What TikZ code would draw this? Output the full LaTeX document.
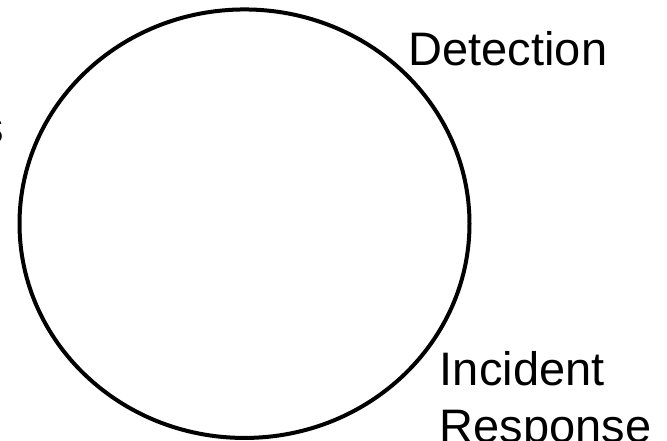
\documentclass[tikz,border=0pt]{standalone}
\usepackage{fontspec}
\setmainfont{Liberation Sans}
\usetikzlibrary{shapes.geometric}
\begin{document}
\begin{tikzpicture}[x=1pt,y=-1pt,
  ring/.style={draw=black,line width=4pt,ellipse,inner sep=0pt,minimum width=450pt,minimum height=428.5pt},
  lbl/.style={inner sep=0pt,font=\fontsize{47pt}{57.5pt}\selectfont,text=black}]
\useasboundingbox (0,0) rectangle (667,441);
\node[ring] (cycle) at (244.5,223.7) {};
\node[lbl,anchor=base west] (det) at (408.5,65.3) {Detection};
\node[lbl,anchor=base west,align=left] (ir) at (439.7,442.5) {Incident\\Response};
\node[lbl,anchor=base east] (s) at (4.5,143.5) {s};
\end{tikzpicture}
\end{document}
